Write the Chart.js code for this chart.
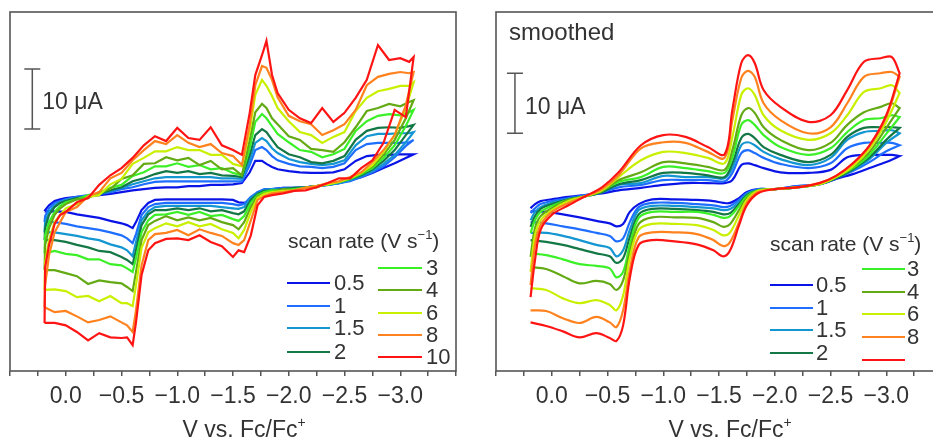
<!DOCTYPE html>
<html>
<head>
<meta charset="utf-8">
<script src="https://cdn.jsdelivr.net/npm/chart.js@4"></script>
<style>
    html, body { margin: 0; padding: 0; background: #fff; overflow: hidden; width: 933px; height: 442px; }
    #rawWrap { position: absolute; left: 0; top: 0; }
    #smWrap { position: absolute; left: 466px; top: 0; }
</style>
</head>
<body>
<div id="rawWrap"><canvas id="rawChart" width="466" height="442"></canvas></div>
<div id="smWrap"><canvas id="smChart" width="490" height="442"></canvas></div>
<script>
// ========== data ==========
// scan rates (V s-1)
const rates = ['0.5', '1', '1.5', '2', '3', '4', '6', '8', '10'];
const scaleBarUA = 10;

// raw data: potential (V vs Fc/Fc+), forward (negative-going) and reverse sweep
const rawFwdV = [0.19, 0.185, 0.15, 0.1, 0.05, 0.0, -0.1, -0.2, -0.3, -0.4, -0.5, -0.6, -0.7, -0.8, -0.9, -1.0, -1.1, -1.2, -1.3, -1.4, -1.5, -1.58, -1.65, -1.7, -1.76, -1.8, -1.85, -1.9, -2.0, -2.1, -2.2, -2.3, -2.4, -2.5, -2.6, -2.7, -2.8, -2.9, -3.0, -3.08, -3.12];
const rawRevV = [-3.12, -3.05, -2.95, -2.85, -2.75, -2.65, -2.55, -2.45, -2.35, -2.25, -2.15, -2.05, -1.95, -1.85, -1.78, -1.72, -1.66, -1.6, -1.55, -1.5, -1.4, -1.3, -1.2, -1.1, -1.0, -0.9, -0.8, -0.74, -0.68, -0.63, -0.6, -0.55, -0.5, -0.4, -0.3, -0.2, -0.1, 0.0, 0.1, 0.19];

// raw currents (uA)
const rawFwd05 = [-3.2, -3.0, -2.2, -1.5, -1.2, -1.0, -0.8, -0.7, -0.5, -0.3, 0.0, 0.3, 0.5, 0.7, 0.8, 0.8, 1.0, 1.0, 1.2, 1.2, 1.3, 1.5, 3.3, 5.2, 5.2, 4.7, 4.2, 3.8, 3.5, 3.3, 3.2, 3.2, 3.3, 3.8, 5.2, 6.0, 6.2, 6.2, 6.3, 6.3, 6.3];
const rawFwd1 = [-5.0, -4.0, -2.7, -1.8, -1.5, -1.2, -0.8, -0.5, -0.3, 0.0, 0.5, 0.8, 1.3, 1.7, 1.8, 1.8, 1.8, 1.8, 1.8, 1.8, 1.8, 1.8, 4.5, 7.0, 7.5, 7.0, 6.0, 5.3, 4.7, 4.3, 4.2, 4.0, 4.2, 4.8, 7.0, 8.0, 8.2, 8.2, 8.2, 8.3, 8.7];
const rawFwd15 = [-6.7, -5.0, -3.3, -2.2, -1.7, -1.3, -1.0, -0.7, -0.3, 0.2, 0.7, 1.3, 1.8, 2.3, 2.5, 2.5, 2.5, 2.5, 2.5, 2.3, 2.3, 2.2, 5.3, 8.2, 9.0, 8.5, 7.3, 6.5, 5.5, 5.0, 4.7, 4.5, 4.7, 5.3, 7.8, 9.3, 9.7, 9.7, 9.8, 9.8, 10.0];
const rawFwd2 = [-8.0, -6.0, -3.8, -2.5, -1.8, -1.5, -1.0, -0.7, -0.3, 0.3, 0.8, 1.8, 2.3, 3.0, 3.5, 3.2, 3.5, 3.0, 3.2, 2.8, 2.7, 2.5, 6.2, 9.5, 10.5, 10.0, 8.7, 7.5, 6.3, 5.8, 5.0, 4.8, 5.2, 6.0, 8.7, 10.2, 10.7, 10.8, 10.7, 11.0, 11.2];
const rawFwd3 = [-10.2, -7.2, -5.0, -3.3, -2.3, -1.7, -1.2, -0.5, -0.3, 0.7, 1.2, 2.7, 3.3, 4.3, 4.3, 4.8, 4.2, 4.5, 3.8, 4.0, 3.2, 2.8, 7.3, 11.7, 13.0, 12.3, 11.0, 9.7, 8.3, 7.0, 6.7, 5.8, 6.3, 7.2, 10.2, 11.8, 12.7, 13.0, 12.8, 13.3, 13.7];
const rawFwd4 = [-13.0, -8.8, -6.0, -3.8, -2.7, -2.0, -1.2, -1.0, 0.0, 0.5, 2.2, 2.8, 4.7, 4.8, 5.8, 5.3, 5.7, 4.5, 5.2, 3.8, 4.0, 2.8, 8.7, 13.3, 14.7, 14.0, 12.3, 11.3, 9.3, 8.7, 7.2, 7.0, 6.7, 8.3, 10.8, 13.5, 14.0, 14.7, 14.3, 15.0, 15.3];
const rawFwd6 = [-16.3, -11.7, -8.0, -5.0, -3.8, -2.7, -2.0, -0.8, -0.5, 1.3, 2.2, 4.7, 5.7, 6.8, 6.8, 7.5, 7.0, 7.0, 6.2, 6.2, 4.7, 4.3, 10.3, 16.2, 18.7, 17.7, 16.0, 14.0, 11.8, 10.0, 9.5, 8.2, 9.2, 10.0, 13.5, 15.7, 16.8, 17.2, 17.7, 17.7, 18.3];
const rawFwd8 = [-19.2, -15.5, -10.5, -6.7, -5.0, -3.3, -2.5, -0.7, 0.0, 2.3, 3.2, 5.3, 7.0, 8.5, 8.0, 9.5, 8.2, 7.5, 8.0, 6.5, 6.0, 4.5, 11.2, 17.8, 21.0, 20.7, 18.7, 15.8, 12.7, 11.8, 11.3, 9.5, 10.3, 11.3, 13.7, 17.8, 19.2, 19.7, 20.0, 19.8, 20.0];
const rawFwd10 = [-21.8, -12.5, -8.8, -5.3, -3.8, -3.3, -1.7, -1.0, 1.2, 2.8, 4.0, 5.7, 7.8, 9.3, 8.5, 10.7, 9.0, 8.7, 10.8, 7.8, 7.0, 6.2, 13.2, 19.5, 22.8, 25.2, 19.5, 16.5, 13.7, 12.3, 11.5, 14.0, 11.7, 13.2, 15.7, 18.7, 24.5, 22.0, 22.3, 21.7, 22.5];

const rawRev05 = [6.3, 5.7, 4.8, 4.0, 3.2, 2.5, 2.0, 1.5, 1.2, 1.0, 0.8, 0.7, 0.7, 0.5, 0.3, 0.0, -1.3, -1.8, -1.7, -1.3, -1.2, -1.2, -1.2, -1.2, -1.2, -1.2, -1.3, -1.8, -3.0, -5.0, -6.0, -5.5, -5.2, -4.8, -4.3, -4.0, -3.7, -3.3, -3.2, -3.2];
const rawRev1 = [8.7, 7.7, 5.8, 4.3, 3.3, 2.5, 1.8, 1.5, 1.2, 1.0, 0.8, 0.7, 0.7, 0.5, 0.5, 0.0, -0.8, -2.0, -2.2, -2.0, -1.8, -1.8, -1.8, -1.8, -1.8, -1.8, -2.0, -2.5, -3.8, -7.0, -8.5, -7.7, -7.2, -6.7, -6.3, -6.0, -5.7, -5.3, -5.0, -5.0];
const rawRev15 = [10.0, 8.3, 6.2, 4.7, 3.5, 2.7, 2.0, 1.5, 1.2, 1.0, 0.8, 0.7, 0.5, 0.5, 0.3, -0.2, -1.0, -2.5, -2.8, -2.7, -2.5, -2.3, -2.3, -2.3, -2.3, -2.3, -2.5, -3.2, -4.7, -8.3, -10.7, -9.7, -9.2, -8.7, -8.0, -7.7, -7.3, -7.0, -6.7, -6.7];
const rawRev2 = [11.2, 9.5, 7.0, 5.2, 3.8, 2.8, 2.2, 1.7, 1.3, 1.0, 0.8, 0.7, 0.5, 0.3, 0.2, -0.3, -1.3, -3.2, -3.7, -3.5, -3.0, -3.2, -2.7, -3.0, -2.7, -3.0, -3.0, -3.7, -5.5, -9.7, -12.0, -11.3, -10.8, -10.0, -9.8, -9.2, -8.8, -8.3, -8.0, -8.0];
const rawRev3 = [13.7, 11.0, 7.8, 5.7, 4.0, 3.0, 2.2, 1.7, 1.3, 1.0, 0.7, 0.5, 0.3, 0.3, 0.0, -0.5, -1.8, -4.0, -4.8, -4.5, -3.8, -4.0, -3.3, -3.8, -3.3, -3.7, -3.8, -4.7, -6.7, -11.0, -13.3, -12.7, -12.2, -12.0, -11.2, -11.2, -10.5, -10.3, -9.8, -10.2];
const rawRev4 = [15.3, 12.3, 8.7, 6.2, 4.3, 3.2, 2.3, 1.7, 1.5, 0.8, 0.8, 0.3, 0.5, 0.0, -0.2, -0.7, -2.5, -5.0, -6.2, -5.5, -5.0, -4.3, -4.7, -4.2, -4.7, -4.0, -4.8, -5.5, -8.0, -13.3, -16.5, -15.8, -15.2, -15.0, -14.7, -15.3, -14.0, -13.5, -13.0, -13.0];
const rawRev6 = [18.3, 14.0, 9.5, 6.7, 4.5, 3.2, 2.3, 1.7, 1.3, 1.0, 0.7, 0.3, 0.2, 0.0, -0.3, -1.0, -3.3, -6.3, -7.7, -6.8, -6.2, -5.3, -5.7, -5.0, -5.7, -5.2, -6.0, -6.7, -9.3, -15.5, -19.0, -18.5, -18.5, -17.3, -18.2, -17.3, -17.5, -16.5, -16.2, -16.3];
const rawRev8 = [20.0, 14.5, 9.5, 7.0, 5.0, 3.3, 2.5, 1.8, 1.5, 1.0, 0.7, 0.3, 0.0, -0.2, -0.7, -1.3, -4.7, -8.0, -8.8, -8.5, -7.3, -6.8, -6.2, -7.2, -6.3, -6.8, -7.0, -8.0, -12.2, -19.7, -23.3, -22.2, -21.7, -20.7, -21.3, -21.7, -20.7, -19.8, -20.0, -19.2];
const rawRev10 = [22.5, 12.5, 13.7, 8.2, 5.3, 4.0, 2.3, 2.3, 1.5, 0.8, 0.3, 0.2, -0.2, -0.5, -0.8, -2.2, -7.2, -10.0, -9.7, -10.8, -9.0, -8.3, -7.2, -8.0, -7.7, -7.8, -8.5, -9.7, -13.8, -21.7, -25.5, -24.2, -24.3, -24.2, -23.5, -24.7, -23.3, -22.2, -21.8, -21.8];

// smoothed data
const smFwdV = [0.19, 0.15, 0.1, 0.0, -0.15, -0.3, -0.45, -0.6, -0.8, -1.0, -1.2, -1.4, -1.55, -1.62, -1.7, -1.76, -1.82, -1.9, -2.05, -2.3, -2.5, -2.65, -2.8, -2.95, -3.05, -3.12];
const smRevV = [-3.12, -3.0, -2.85, -2.7, -2.55, -2.4, -2.2, -2.0, -1.85, -1.75, -1.68, -1.6, -1.54, -1.45, -1.3, -1.1, -0.9, -0.78, -0.7, -0.64, -0.58, -0.52, -0.4, -0.25, -0.1, 0.05, 0.19];

const smFwd05 = [-2.7, -2.0, -1.5, -1.2, -0.8, -0.5, -0.2, 0.3, 0.7, 1.2, 1.5, 1.5, 1.5, 2.0, 4.5, 4.8, 4.5, 4.0, 3.3, 3.2, 3.7, 5.8, 6.2, 6.2, 6.2, 6.0];
const smFwd1 = [-3.5, -2.7, -2.0, -1.5, -1.0, -0.5, 0.0, 0.8, 1.2, 2.0, 2.0, 2.0, 1.8, 3.2, 6.5, 7.0, 6.5, 5.7, 4.7, 4.0, 4.8, 7.3, 8.2, 8.2, 8.2, 7.8];
const smFwd15 = [-4.7, -3.3, -2.5, -1.8, -1.2, -0.7, 0.0, 1.2, 1.5, 2.7, 2.5, 2.5, 2.3, 4.0, 7.8, 8.3, 7.8, 6.7, 5.5, 4.5, 5.7, 8.7, 10.0, 10.2, 10.3, 9.8];
const smFwd2 = [-5.8, -4.0, -2.8, -2.0, -1.2, -0.7, 0.0, 1.3, 2.0, 3.2, 3.2, 2.8, 2.5, 4.8, 9.0, 9.7, 9.0, 7.5, 6.2, 5.0, 6.2, 9.2, 10.7, 10.8, 10.8, 10.7];
const smFwd3 = [-6.8, -4.7, -3.3, -2.3, -1.3, -0.7, 0.2, 1.7, 2.5, 4.2, 4.0, 3.5, 3.2, 5.8, 11.2, 12.0, 11.2, 9.5, 7.5, 6.2, 7.3, 10.0, 12.0, 12.3, 12.8, 12.5];
const smFwd4 = [-10.8, -6.0, -4.0, -2.7, -1.3, -0.7, 0.2, 2.0, 3.3, 5.0, 4.8, 4.2, 3.7, 7.0, 12.8, 14.0, 13.2, 10.8, 8.7, 7.0, 8.2, 11.2, 13.3, 14.2, 14.8, 14.0];
const smFwd6 = [-13.3, -7.2, -4.7, -3.0, -1.5, -0.7, 0.3, 2.5, 5.3, 6.7, 6.5, 5.7, 4.8, 9.2, 16.2, 17.3, 16.2, 12.8, 10.3, 8.7, 9.8, 12.8, 16.7, 17.3, 17.8, 16.5];
const smFwd8 = [-15.5, -8.8, -5.5, -3.3, -1.8, -0.7, 0.5, 2.8, 7.3, 8.3, 8.2, 6.7, 5.7, 12.0, 19.0, 20.2, 19.2, 14.8, 12.0, 9.8, 10.8, 14.8, 19.2, 19.8, 20.0, 19.2];
const smFwd10 = [-17.5, -11.3, -6.3, -3.8, -2.2, -0.7, 0.8, 3.3, 7.8, 9.5, 9.2, 7.5, 6.3, 13.7, 21.5, 22.8, 21.5, 17.0, 14.2, 11.7, 12.8, 17.0, 21.7, 22.3, 22.5, 19.8];

const smRev05 = [6.0, 5.0, 4.0, 3.0, 2.2, 1.3, 1.0, 0.5, 0.5, 0.0, -1.0, -1.8, -1.8, -1.5, -1.3, -1.2, -1.2, -2.0, -3.3, -5.3, -5.7, -5.2, -4.8, -4.2, -3.7, -3.3, -3.2];
const smRev1 = [7.8, 6.8, 5.0, 3.5, 2.3, 1.3, 1.0, 0.5, 0.5, -0.2, -1.3, -2.3, -2.5, -2.2, -2.0, -1.8, -1.8, -2.5, -5.0, -7.7, -8.2, -7.3, -6.8, -6.2, -5.7, -5.2, -5.0];
const smRev15 = [9.8, 8.2, 5.5, 3.7, 2.3, 1.3, 0.8, 0.5, 0.3, -0.3, -1.7, -2.8, -3.0, -2.7, -2.5, -2.3, -2.3, -3.0, -6.3, -9.7, -10.7, -9.3, -8.8, -8.0, -7.3, -6.8, -6.8];
const smRev2 = [10.7, 8.7, 5.8, 3.8, 2.3, 1.3, 0.8, 0.5, 0.3, -0.5, -2.0, -3.5, -3.7, -3.3, -3.0, -2.8, -2.8, -3.7, -7.5, -11.0, -11.8, -10.7, -10.2, -9.5, -8.8, -8.3, -8.0];
const smRev3 = [12.5, 9.7, 6.2, 4.0, 2.5, 1.3, 0.8, 0.5, 0.3, -0.7, -2.3, -4.0, -4.3, -3.8, -3.3, -3.3, -3.3, -4.3, -8.8, -13.3, -14.2, -12.7, -12.3, -12.0, -11.2, -10.5, -10.2];
const smRev4 = [14.0, 10.7, 6.7, 4.2, 2.5, 1.3, 0.8, 0.5, 0.2, -1.0, -3.0, -5.3, -5.8, -5.0, -4.3, -4.2, -4.2, -5.3, -10.0, -14.7, -16.3, -15.3, -14.8, -15.2, -14.0, -12.8, -12.5];
const smRev6 = [16.5, 11.7, 7.2, 4.3, 2.5, 1.3, 0.8, 0.5, 0.2, -1.3, -3.8, -6.7, -7.2, -6.3, -5.5, -5.3, -5.3, -6.3, -11.0, -17.2, -19.7, -18.8, -18.0, -18.5, -17.7, -16.3, -16.0];
const smRev8 = [19.2, 12.5, 7.7, 4.7, 2.7, 1.5, 0.8, 0.5, 0.0, -1.8, -5.0, -8.3, -9.0, -8.0, -7.0, -6.7, -6.7, -7.5, -13.0, -19.7, -22.5, -21.7, -20.8, -21.8, -21.0, -19.8, -19.7];
const smRev10 = [19.8, 12.8, 7.8, 4.8, 2.7, 1.5, 0.8, 0.5, -0.2, -2.2, -5.5, -9.7, -10.7, -9.7, -8.7, -8.2, -8.0, -8.8, -14.3, -22.2, -24.8, -24.3, -23.5, -24.2, -23.2, -22.3, -21.7];

const rawFwd = [rawFwd05, rawFwd1, rawFwd15, rawFwd2, rawFwd3, rawFwd4, rawFwd6, rawFwd8, rawFwd10];
const rawRev = [rawRev05, rawRev1, rawRev15, rawRev2, rawRev3, rawRev4, rawRev6, rawRev8, rawRev10];
const smFwd = [smFwd05, smFwd1, smFwd15, smFwd2, smFwd3, smFwd4, smFwd6, smFwd8, smFwd10];
const smRev = [smRev05, smRev1, smRev15, smRev2, smRev3, smRev4, smRev6, smRev8, smRev10];

// ========== style ==========
const colors = ['#0a14e6', '#1e6eff', '#1496d2', '#147846', '#3cf028', '#64aa14', '#c8f000', '#ff821e', '#ff1414'];
const FONT = '"Liberation Sans", Arial, sans-serif';
const TEXT = '#333';
const FRAME = '#555';

/**
 * text with superscript parts: parts = [[text, isSup], ...]
 */
function partsWidth(ctx, parts, size) {
    let w = 0;
    parts.forEach(([t, sup]) => {
        ctx.font = (sup ? Math.round(size * 0.62) : size) + 'px ' + FONT;
        w += ctx.measureText(t).width;
    });
    return w;
}
function drawParts(ctx, x, y, parts, size) {
    let cx = x;
    parts.forEach(([t, sup]) => {
        ctx.font = (sup ? Math.round(size * 0.62) : size) + 'px ' + FONT;
        ctx.fillText(t, cx, sup ? y - size * 0.32 : y);
        cx += ctx.measureText(t).width;
    });
}

function tickLabel(v) {
    const r = Math.round(v * 100) / 100;
    if (r > 0.001 || r < -3.001) return '';
    if (Math.abs(r * 2 - Math.round(r * 2)) > 1e-6) return '';
    return r === 0 ? '0.0' : '\u2212' + Math.abs(r).toFixed(1);
}

// frame, scale bar, legend and labels
const cvDecor = {
    id: 'cvDecor',
    afterDraw(chart, args, o) {
        const { ctx, chartArea: a, scales: { x, y } } = chart;
        ctx.save();
        ctx.strokeStyle = FRAME;
        ctx.lineWidth = 1.6;
        ctx.strokeRect(a.left, a.top, a.right - a.left, a.bottom - a.top);

        // scale bar
        const bx = x.getPixelForValue(o.barV);
        const y1 = y.getPixelForValue(o.barTop);
        const y2 = y.getPixelForValue(o.barTop - scaleBarUA);
        ctx.lineWidth = 1.5;
        ctx.beginPath();
        ctx.moveTo(bx, y1); ctx.lineTo(bx, y2);
        ctx.moveTo(bx - 8, y1); ctx.lineTo(bx + 8, y1);
        ctx.moveTo(bx - 8, y2); ctx.lineTo(bx + 8, y2);
        ctx.stroke();

        ctx.fillStyle = TEXT;
        ctx.textBaseline = 'middle';
        ctx.textAlign = 'left';
        ctx.font = '23px ' + FONT;
        ctx.fillText(scaleBarUA + ' \u03bcA', bx + 10, (y1 + y2) / 2 + 4);

        if (o.tag) {
            ctx.font = '24px ' + FONT;
            ctx.fillText(o.tag.text, o.tag.x, o.tag.y);
        }

        // axis title
        const tParts = [['V vs. Fc/Fc', false], ['+', true]];
        const tw = partsWidth(ctx, tParts, 23);
        drawParts(ctx, x.getPixelForValue(-1.6) - tw / 2, 431, tParts, 23);

        // legend
        const lg = o.legend;
        drawParts(ctx, lg.title[0], lg.title[1], [['scan rate (V s', false], ['\u22121', true], [')', false]], 21);
        rates.forEach((r, i) => {
            const col = i < 4 ? lg.cols[0] : lg.cols[1];
            const ly = col.rows[i < 4 ? i : i - 4];
            ctx.strokeStyle = colors[i];
            ctx.lineWidth = 2;
            ctx.beginPath();
            ctx.moveTo(col.x1, ly); ctx.lineTo(col.x2, ly);
            ctx.stroke();
            if (lg.hideLast && i === rates.length - 1) return;
            ctx.font = '22px ' + FONT;
            ctx.fillText(r, col.lx, ly + 1);
        });
        ctx.restore();
    }
};

function makeChart(id, fwdV, revV, fwd, rev, smooth, deco, padLeft, padRight) {
    const datasets = rates.map((r, i) => ({
        label: r,
        data: fwdV.map((v, k) => ({ x: v, y: fwd[i][k] }))
            .concat(revV.map((v, k) => ({ x: v, y: rev[i][k] }))),
        borderColor: colors[i],
        borderWidth: 2.2,
        pointRadius: 0,
        showLine: true,
        tension: smooth ? 0.35 : 0,
        order: rates.length - i
    }));
    return new Chart(document.getElementById(id), {
        type: 'scatter',
        data: { datasets },
        options: {
            responsive: false,
            animation: false,
            layout: { padding: { left: padLeft, right: padRight, top: 12, bottom: 0 } },
            plugins: { legend: { display: false }, tooltip: { enabled: false }, cvDecor: deco },
            scales: {
                x: {
                    type: 'linear', reverse: true, min: -3.5, max: 0.5,
                    ticks: {
                        stepSize: 0.25, autoSkip: false, maxRotation: 0, padding: 7,
                        color: TEXT, font: { family: FONT, size: 23 }, callback: tickLabel
                    },
                    grid: { drawOnChartArea: false, drawTicks: true, tickLength: 5, color: FRAME, lineWidth: 1.5 },
                    border: { display: false },
                    afterFit: s => { s.height = 71; }
                },
                y: { display: false, min: -29.8, max: 30 }
            }
        },
        plugins: [cvDecor]
    });
}

makeChart('rawChart', rawFwdV, rawRevV, rawFwd, rawRev, false, {
    barV: 0.30, barTop: 20.5, tag: null,
    legend: {
        title: [288, 242], hideLast: false,
        cols: [
            { x1: 287, x2: 330, lx: 334, rows: [283, 306, 328, 352] },
            { x1: 378, x2: 422, lx: 426, rows: [268, 290, 313, 335, 357] }
        ]
    }
}, 10, 10);

makeChart('smChart', smFwdV, smRevV, smFwd, smRev, true, {
    barV: 0.33, barTop: 19.8, tag: { text: 'smoothed', x: 43, y: 33 },
    legend: {
        title: [304, 245], hideLast: true,
        cols: [
            { x1: 304, x2: 347, lx: 350, rows: [285, 308, 330, 353] },
            { x1: 396, x2: 439, lx: 441, rows: [269, 292, 314, 337, 360] }
        ]
    }
}, 30, 14);
</script>
</body>
</html>
